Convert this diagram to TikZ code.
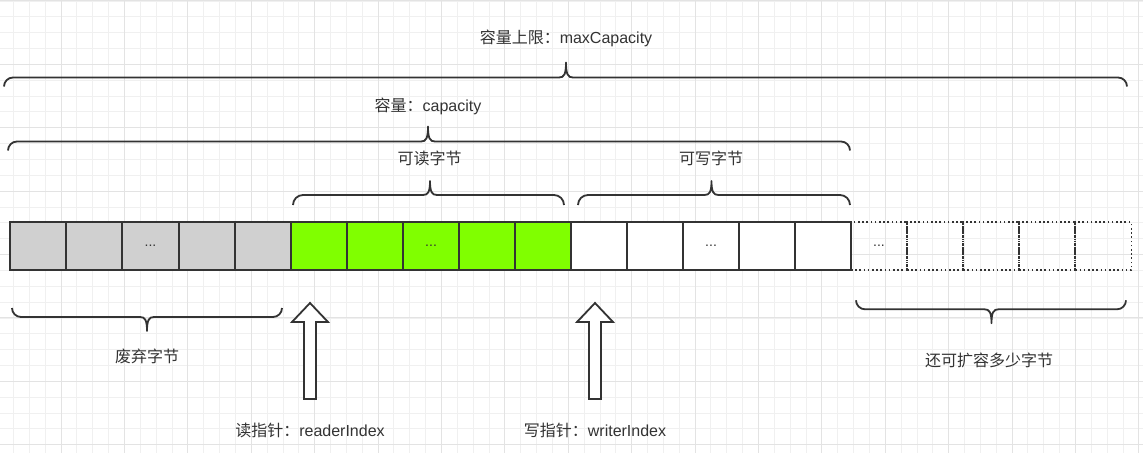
\documentclass[tikz,border=0pt]{standalone}
\usepackage{fontspec}
\setmainfont{Liberation Sans}
\newfontfamily\cjk{Noto Sans CJK SC}
\definecolor{ink}{HTML}{333333}
\definecolor{gridminor}{HTML}{F0F0F0}
\definecolor{gridmajor}{HTML}{E3E3E3}
\definecolor{cellgrey}{HTML}{D0D0D0}
\definecolor{cellgreen}{HTML}{80FF00}
\tikzset{
  cellbox/.style={draw=ink, line width=2pt, minimum width=56.1pt, minimum height=47.7pt, inner sep=0pt, anchor=west, font=\fontsize{14}{16}\selectfont, text=ink},
  greycell/.style={cellbox, fill=cellgrey},
  greencell/.style={cellbox, fill=cellgreen},
  whitecell/.style={cellbox, fill=white},
  dotcell/.style={cellbox, line width=1.8pt, dash pattern=on 1.6pt off 2.6pt},
  braceline/.style={draw=ink, line width=1.8pt, line join=round},
  label/.style={text=ink, font=\fontsize{16}{19}\selectfont, inner sep=0pt},
  blockarrow/.style={draw=ink, fill=white, line width=1.8pt, line join=miter},
}
% brace with tip pointing up: x1, x2, xm, y, tip height, end depth
\newcommand\bracetipup[6]{%
  \draw[braceline] (#1,#4+#6) .. controls (#1,#4+#6*0.45) and (#1+#6*0.45,#4) .. (#1+#6,#4)
    -- (#3-7,#4) .. controls (#3-2,#4) and (#3,#4-3) .. (#3,#4-#5)
    .. controls (#3,#4-3) and (#3+2,#4) .. (#3+7,#4)
    -- (#2-#6,#4) .. controls (#2-#6*0.45,#4) and (#2,#4+#6*0.45) .. (#2,#4+#6);}
% brace with tip pointing down
\newcommand\bracetipdown[6]{%
  \draw[braceline] (#1,#4-#6) .. controls (#1,#4-#6*0.45) and (#1+#6*0.45,#4) .. (#1+#6,#4)
    -- (#3-7,#4) .. controls (#3-2,#4) and (#3,#4+3) .. (#3,#4+#5)
    .. controls (#3,#4+3) and (#3+2,#4) .. (#3+7,#4)
    -- (#2-#6,#4) .. controls (#2-#6*0.45,#4) and (#2,#4-#6*0.45) .. (#2,#4-#6);}
\begin{document}
\begin{tikzpicture}[x=1pt,y=-1pt]
\useasboundingbox (0,0) rectangle (1143,453);
\clip (0,0) rectangle (1143,453);
\fill[white] (0,0) rectangle (1143,453);
% grid
\foreach \i in {0,...,72} {
  \draw[gridminor, line width=0.8pt] (13.45+15.85*\i,0) -- (13.45+15.85*\i,453);
}
\foreach \j in {0,...,29} {
  \draw[gridminor, line width=0.8pt] (0,0.9+15.85*\j) -- (1143,0.9+15.85*\j);
}
\foreach \i in {-1,...,17} {
  \draw[gridmajor, line width=0.9pt] (61+63.4*\i,0) -- (61+63.4*\i,453);
}
\foreach \j in {-1,...,7} {
  \draw[gridmajor, line width=0.9pt] (0,64.3+63.4*\j) -- (1143,64.3+63.4*\j);
}

% cells
\foreach \k in {0,...,4} {
  \node[dotcell] (d\k) at (850+56.1*\k,246.2) {\ifnum\k=0 ...\fi};
}
\foreach \k in {0,...,4} {
  \node[greycell] (g\k) at (9+56.2*\k,246.2) {\ifnum\k=2 ...\fi};
}
\foreach \k in {0,...,4} {
  \node[greencell] (r\k) at (290+56*\k,246.2) {\ifnum\k=2 ...\fi};
}
\foreach \k in {0,...,4} {
  \node[whitecell] (w\k) at (570+56*\k,246.2) {\ifnum\k=2 ...\fi};
}

% braces
\bracetipup{4}{1127}{566}{77.5}{15}{9}
\bracetipup{8}{850}{428}{141.5}{15}{9}
\bracetipup{293}{564}{430}{195}{14}{10}
\bracetipup{578}{850}{711.5}{195}{14}{10}
\bracetipdown{12}{282}{147}{317}{14}{9}
\bracetipdown{856}{1126}{991.5}{309.3}{14}{9}

% labels
\node[label] (maxcap) at (566,38) {{\cjk 容量上限：}maxCapacity};
\node[label] (cap) at (428,106) {{\cjk 容量：}capacity};
\node[label] (readable) at (429.5,158) {\cjk 可读字节};
\node[label] (writable) at (711,158) {\cjk 可写字节};
\node[label] (discard) at (147,356.5) {\cjk 废弃字节};
\node[label] (expand) at (989,360) {\cjk 还可扩容多少字节};
\node[label] (reader) at (310,430.5) {{\cjk 读指针：}readerIndex};
\node[label] (writer) at (595,430.5) {{\cjk 写指针：}writerIndex};

% block arrows
\draw[blockarrow] (310,303) -- (328,322) -- (316,322) -- (316,399) -- (304,399) -- (304,322) -- (292,322) -- cycle;
\draw[blockarrow] (595,303) -- (613,322) -- (601,322) -- (601,399) -- (589,399) -- (589,322) -- (577,322) -- cycle;
\end{tikzpicture}
\end{document}
